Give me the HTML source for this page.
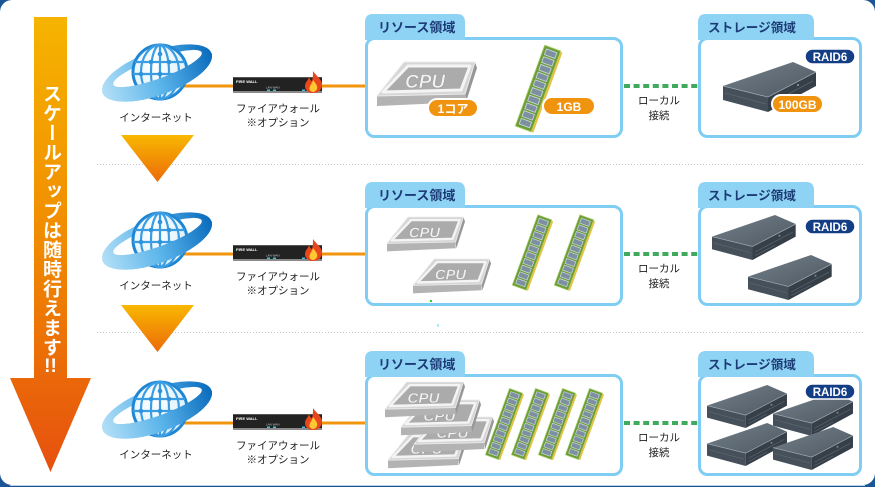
<!DOCTYPE html>
<html><head><meta charset="utf-8">
<style>
html,body{margin:0;padding:0;}
body{width:875px;height:487px;overflow:hidden;background:#1b5596;position:relative;font-family:"Liberation Sans","Noto Sans CJK JP",sans-serif;}
svg{position:absolute;left:0;top:0;}
.vt{position:absolute;left:38px;top:84px;width:25px;writing-mode:vertical-rl;font-size:19px;font-weight:bold;color:#fff;line-height:25px;letter-spacing:0.5px;font-family:"Liberation Sans","Noto Sans CJK JP",sans-serif;}
.tcu{text-combine-upright:all;}
</style></head><body>
<svg width="875" height="487" viewBox="0 0 875 487" font-family="Liberation Sans, Noto Sans CJK JP, sans-serif">
<defs>
  <linearGradient id="ga" x1="0" y1="17" x2="0" y2="472" gradientUnits="userSpaceOnUse">
    <stop offset="0" stop-color="#f6b400"/>
    <stop offset="0.5" stop-color="#f08a00"/>
    <stop offset="1" stop-color="#e6500f"/>
  </linearGradient>
  <linearGradient id="gt" x1="0" y1="0" x2="0" y2="1">
    <stop offset="0" stop-color="#f8b800"/>
    <stop offset="1" stop-color="#ec6a0a"/>
  </linearGradient>
  <linearGradient id="gring" x1="-58" y1="0" x2="58" y2="0" gradientUnits="userSpaceOnUse">
    <stop offset="0" stop-color="#b3dff7"/>
    <stop offset="0.5" stop-color="#5ab4ea"/>
    <stop offset="1" stop-color="#0a6bbd"/>
  </linearGradient>
  <radialGradient id="gsph" cx="0.4" cy="0.35" r="0.7">
    <stop offset="0" stop-color="#ffffff"/>
    <stop offset="1" stop-color="#d8eefb"/>
  </radialGradient>
  <linearGradient id="ghdd" x1="0" y1="0" x2="1" y2="1">
    <stop offset="0" stop-color="#75818b"/>
    <stop offset="1" stop-color="#4d5861"/>
  </linearGradient>
  <clipPath id="frontclip">
    <rect x="-70" y="0" width="140" height="40" transform="rotate(-20)"/>
  </clipPath>

  <g id="ring">
    <path transform="rotate(-20)" fill-rule="evenodd" fill="url(#gring)"
      d="M-58,0 A58,22 0 1 0 58,0 A58,22 0 1 0 -58,0 Z M-45,-4 A47,10 0 1 0 49,-4 A47,10 0 1 0 -45,-4 Z"/>
  </g>
  <g id="globe">
    <use href="#ring"/>
    <g transform="translate(3,-1)">
      <circle r="27" fill="url(#gsph)" stroke="#1f86d4" stroke-width="3"/>
      <g fill="none" stroke="#3a9de2" stroke-width="2.2">
        <ellipse rx="9" ry="27"/>
        <ellipse rx="19" ry="27"/>
        <line x1="0" y1="-27" x2="0" y2="27"/>
        <line x1="-25" y1="-10" x2="25" y2="-10"/>
        <line x1="-27" y1="2" x2="27" y2="2"/>
        <line x1="-23" y1="14" x2="23" y2="14"/>
      </g>
      <g fill="#2f93dc">
        <circle cx="-9" cy="-10" r="2.3"/><circle cx="9" cy="-10" r="2.3"/>
        <circle cx="0" cy="2" r="2.3"/><circle cx="-19" cy="2" r="2.3"/><circle cx="19" cy="2" r="2.3"/>
        <circle cx="-9" cy="14" r="2.3"/><circle cx="9" cy="14" r="2.3"/>
        <circle cx="0" cy="-18" r="2.3"/>
      </g>
    </g>
    <g clip-path="url(#frontclip)"><use href="#ring"/></g>
  </g>

  <g id="fw">
    <rect x="0" y="0" width="89" height="16" fill="#222"/>
    <rect x="0" y="0" width="89" height="1" fill="#555"/>
    <rect x="0" y="14" width="89" height="2" fill="#8a8a8a"/>
    <rect x="34" y="12.5" width="3" height="1.5" fill="#3cc0f0"/>
    <rect x="40" y="12.5" width="3" height="1.5" fill="#3cc0f0"/>
    <rect x="69" y="12.5" width="3" height="1.5" fill="#3cc0f0"/>
    <path d="M80,-6 C84,0 90,3 89,9 C88,14 84,16 80,16 C75,16 72,13 72,9 C72,5 75,4 76,0 C77,3 78,4 79,4 C80,1 80,-3 80,-6 Z" fill="#e8471c"/>
    <path d="M80,3 C83,7 85,9 84,12 C83,14 81,15 80,15 C78,15 76,13 76.5,11 C77,8 79,7 80,3 Z" fill="#ffc832"/>
  </g>

  <g id="cpu">
    <polygon points="0,34 88,32 88,40 0,44" fill="#b3b3b3"/>
    <polygon points="98,0 100,6 89,40 88,32" fill="#979797"/>
    <polygon points="27,0 98,0 88,32 0,34" fill="#d6d6d6" stroke="#ececec" stroke-width="1"/>
    <polygon points="31,4 93,4 84,28 6,30" fill="#ababab" stroke="#f4f4f4" stroke-width="3" stroke-linejoin="round"/>
  </g>

  <g id="mem">
    <rect x="-8.5" y="-43" width="17" height="86" fill="#6e9c3a" stroke="#a3d063" stroke-width="0.8"/>
    <rect x="8.5" y="-42" width="2.2" height="85" fill="#e2c444"/>
    <g fill="#7d90a2" stroke="#cfd9e1" stroke-width="0.8">
      <rect x="-5.5" y="-40" width="11" height="6"/>
      <rect x="-5.5" y="-31.8" width="11" height="6"/>
      <rect x="-5.5" y="-23.6" width="11" height="6"/>
      <rect x="-5.5" y="-15.4" width="11" height="6"/>
      <rect x="-5.5" y="-7.2" width="11" height="6"/>
      <rect x="-5.5" y="1" width="11" height="6"/>
      <rect x="-5.5" y="9.2" width="11" height="6"/>
      <rect x="-5.5" y="17.4" width="11" height="6"/>
      <rect x="-5.5" y="25.6" width="11" height="6"/>
      <rect x="-5.5" y="33.8" width="11" height="6"/>
    </g>
  </g>

  <g id="hdd">
    <polygon points="0,24 45,35 45,50 0,38" fill="#46505a"/>
    <polygon points="45,35 93,10 93,24 45,50" fill="#363f48"/>
    <polygon points="0,24 70,0 93,10 45,35" fill="url(#ghdd)"/>
    <polyline points="0,24 45,35 93,10" fill="none" stroke="#9aa6b0" stroke-width="0.8"/>
    <line x1="2" y1="31" x2="43" y2="42" stroke="#5b6670" stroke-width="0.8"/>
    <line x1="48" y1="41" x2="90" y2="19" stroke="#58636d" stroke-width="0.8"/>
    <line x1="48" y1="45" x2="70" y2="33.5" stroke="#58636d" stroke-width="0.8"/>
    <rect x="74" y="22" width="2" height="2" fill="#7a8690"/>
  </g>
</defs>

<!-- frame -->
<rect x="0" y="0" width="875" height="485" rx="12" fill="#fff"/>
<line x1="10" y1="485.5" x2="865" y2="485.5" stroke="#b7d2ea"/>

<!-- big left arrow -->
<rect x="34" y="17" width="33" height="362" fill="url(#ga)"/>
<polygon points="10,378 91,378 50.5,472" fill="url(#ga)"/>

<!-- separators -->
<line x1="97" y1="164.5" x2="865" y2="164.5" stroke="#c4c4c4" stroke-dasharray="1 2"/>
<line x1="97" y1="332.5" x2="865" y2="332.5" stroke="#c4c4c4" stroke-dasharray="1 2"/>

<!-- down triangles -->
<polygon points="121,135 194,135 157.5,182" fill="url(#gt)"/>
<polygon points="121,305 194,305 157.5,352" fill="url(#gt)"/>

<!-- ROWS common -->
<g id="row1">
  <line x1="183" y1="86" x2="366" y2="86" stroke="#f0950c" stroke-width="3"/>
  <use href="#globe" transform="translate(157,73)"/>
  <use href="#fw" transform="translate(233,77)"/>
  <text x="236" y="83" font-size="4" font-weight="bold" fill="#fff">FIRE WALL</text>
  <text x="266" y="88.5" font-size="3" fill="#ccc">LAN WAN</text>
  <text x="156" y="121" font-size="10.5" text-anchor="middle" fill="#222">インターネット</text>
  <text x="278" y="112" font-size="10.5" text-anchor="middle" fill="#222">ファイアウォール</text>
  <text x="278" y="126" font-size="10.5" text-anchor="middle" fill="#222">※オプション</text>
  <rect x="366.5" y="38.5" width="255" height="98" rx="8" fill="#fff" stroke="#7fcdf2" stroke-width="3"/>
  <path d="M365,40 V22 Q365,14 373,14 H457 Q465,14 465,22 V40 Z" fill="#8fd3f4"/>
  <text x="378" y="32" font-size="13" font-weight="bold" fill="#1d3b76">リソース領域</text>
  <rect x="699.5" y="38.5" width="161" height="98" rx="8" fill="#fff" stroke="#7fcdf2" stroke-width="3"/>
  <path d="M698,40 V22 Q698,14 706,14 H806 Q814,14 814,22 V40 Z" fill="#8fd3f4"/>
  <text x="708" y="32" font-size="12.6" font-weight="bold" fill="#1d3b76">ストレージ領域</text>
  <line x1="624" y1="86" x2="699" y2="86" stroke="#3faa5c" stroke-width="4" stroke-dasharray="6 3.6"/>
  <text x="659" y="104" font-size="10.5" text-anchor="middle" fill="#222">ローカル</text>
  <text x="659" y="119" font-size="10.5" text-anchor="middle" fill="#222">接続</text>
</g>
<g transform="translate(0,168)">
  <line x1="183" y1="86" x2="366" y2="86" stroke="#f0950c" stroke-width="3"/>
  <use href="#globe" transform="translate(157,73)"/>
  <use href="#fw" transform="translate(233,77)"/>
  <text x="236" y="83" font-size="4" font-weight="bold" fill="#fff">FIRE WALL</text>
  <text x="266" y="88.5" font-size="3" fill="#ccc">LAN WAN</text>
  <text x="156" y="121" font-size="10.5" text-anchor="middle" fill="#222">インターネット</text>
  <text x="278" y="112" font-size="10.5" text-anchor="middle" fill="#222">ファイアウォール</text>
  <text x="278" y="126" font-size="10.5" text-anchor="middle" fill="#222">※オプション</text>
  <rect x="366.5" y="38.5" width="255" height="98" rx="8" fill="#fff" stroke="#7fcdf2" stroke-width="3"/>
  <path d="M365,40 V22 Q365,14 373,14 H457 Q465,14 465,22 V40 Z" fill="#8fd3f4"/>
  <text x="378" y="32" font-size="13" font-weight="bold" fill="#1d3b76">リソース領域</text>
  <rect x="699.5" y="38.5" width="161" height="98" rx="8" fill="#fff" stroke="#7fcdf2" stroke-width="3"/>
  <path d="M698,40 V22 Q698,14 706,14 H806 Q814,14 814,22 V40 Z" fill="#8fd3f4"/>
  <text x="708" y="32" font-size="12.6" font-weight="bold" fill="#1d3b76">ストレージ領域</text>
  <line x1="624" y1="86" x2="699" y2="86" stroke="#3faa5c" stroke-width="4" stroke-dasharray="6 3.6"/>
  <text x="659" y="104" font-size="10.5" text-anchor="middle" fill="#222">ローカル</text>
  <text x="659" y="119" font-size="10.5" text-anchor="middle" fill="#222">接続</text>
</g>
<g transform="translate(0,337)">
  <line x1="183" y1="86" x2="366" y2="86" stroke="#f0950c" stroke-width="3"/>
  <use href="#globe" transform="translate(157,73)"/>
  <use href="#fw" transform="translate(233,77)"/>
  <text x="236" y="83" font-size="4" font-weight="bold" fill="#fff">FIRE WALL</text>
  <text x="266" y="88.5" font-size="3" fill="#ccc">LAN WAN</text>
  <text x="156" y="121" font-size="10.5" text-anchor="middle" fill="#222">インターネット</text>
  <text x="278" y="112" font-size="10.5" text-anchor="middle" fill="#222">ファイアウォール</text>
  <text x="278" y="126" font-size="10.5" text-anchor="middle" fill="#222">※オプション</text>
  <rect x="366.5" y="38.5" width="255" height="99" rx="8" fill="#fff" stroke="#7fcdf2" stroke-width="3"/>
  <path d="M365,40 V22 Q365,14 373,14 H457 Q465,14 465,22 V40 Z" fill="#8fd3f4"/>
  <text x="378" y="32" font-size="13" font-weight="bold" fill="#1d3b76">リソース領域</text>
  <rect x="699.5" y="38.5" width="161" height="99" rx="8" fill="#fff" stroke="#7fcdf2" stroke-width="3"/>
  <path d="M698,40 V22 Q698,14 706,14 H806 Q814,14 814,22 V40 Z" fill="#8fd3f4"/>
  <text x="708" y="32" font-size="12.6" font-weight="bold" fill="#1d3b76">ストレージ領域</text>
  <line x1="624" y1="86" x2="699" y2="86" stroke="#3faa5c" stroke-width="4" stroke-dasharray="6 3.6"/>
  <text x="659" y="104" font-size="10.5" text-anchor="middle" fill="#222">ローカル</text>
  <text x="659" y="119" font-size="10.5" text-anchor="middle" fill="#222">接続</text>
</g>

<!-- Row 1 contents -->
<g transform="translate(377,62)">
  <use href="#cpu"/>
  <text x="28" y="26" font-size="19" font-style="italic" font-weight="bold" fill="#f2f2f2" stroke="#9a9a9a" stroke-width="0.5">CPU</text>
</g>
<use href="#mem" transform="translate(538,88.5) rotate(20)"/>
<use href="#hdd" transform="translate(723,62)"/>
<rect x="428" y="99" width="50" height="18" rx="9" fill="#f0930e" stroke="#fff" stroke-width="2"/>
<text x="453" y="113" font-size="12" font-weight="bold" text-anchor="middle" fill="#fff">1コア</text>
<rect x="543" y="97" width="52" height="18" rx="9" fill="#f0930e" stroke="#fff" stroke-width="2"/>
<text x="569" y="111" font-size="12" font-weight="bold" text-anchor="middle" fill="#fff">1GB</text>
<rect x="772" y="95" width="51" height="18" rx="9" fill="#f0930e" stroke="#fff" stroke-width="2"/>
<text x="797.5" y="109" font-size="12" font-weight="bold" text-anchor="middle" fill="#fff">100GB</text>
<rect x="805" y="49" width="50" height="15" rx="7.5" fill="#133d85" stroke="#fff" stroke-width="1.5"/>
<text x="830" y="61" font-size="11.5" font-weight="bold" text-anchor="middle" fill="#fff">RAID6</text>

<!-- Row 2 contents -->
<g transform="translate(387,217) scale(0.78)">
  <use href="#cpu"/>
  <text x="28" y="26" font-size="19" font-style="italic" font-weight="bold" fill="#f2f2f2" stroke="#9a9a9a" stroke-width="0.5">CPU</text>
</g>
<g transform="translate(413,259) scale(0.78)">
  <use href="#cpu"/>
  <text x="28" y="26" font-size="19" font-style="italic" font-weight="bold" fill="#f2f2f2" stroke="#9a9a9a" stroke-width="0.5">CPU</text>
</g>
<use href="#mem" transform="translate(532,252.5) rotate(20) scale(0.87)"/>
<use href="#mem" transform="translate(574,252.5) rotate(20) scale(0.87)"/>
<use href="#hdd" transform="translate(712,215) scale(0.9)"/>
<use href="#hdd" transform="translate(748,255) scale(0.9)"/>
<rect x="805" y="219" width="50" height="15" rx="7.5" fill="#133d85" stroke="#fff" stroke-width="1.5"/>
<text x="830" y="231" font-size="11.5" font-weight="bold" text-anchor="middle" fill="#fff">RAID6</text>
<rect x="430" y="300" width="2" height="2" fill="#22dd22"/>
<text x="438" y="327" font-size="5" text-anchor="middle" fill="#40d0e0">x</text>

<!-- Row 3 contents -->
<g transform="translate(388,433) scale(0.8)">
  <use href="#cpu"/>
  <text x="28" y="26" font-size="19" font-style="italic" font-weight="bold" fill="#f2f2f2" stroke="#9a9a9a" stroke-width="0.5">CPU</text>
</g>
<g transform="translate(414,417) scale(0.8)">
  <use href="#cpu"/>
  <text x="28" y="26" font-size="19" font-style="italic" font-weight="bold" fill="#f2f2f2" stroke="#9a9a9a" stroke-width="0.5">CPU</text>
</g>
<g transform="translate(401,400) scale(0.8)">
  <use href="#cpu"/>
  <text x="28" y="26" font-size="19" font-style="italic" font-weight="bold" fill="#f2f2f2" stroke="#9a9a9a" stroke-width="0.5">CPU</text>
</g>
<g transform="translate(385,382) scale(0.8)">
  <use href="#cpu"/>
  <text x="28" y="26" font-size="19" font-style="italic" font-weight="bold" fill="#f2f2f2" stroke="#9a9a9a" stroke-width="0.5">CPU</text>
</g>
<use href="#mem" transform="translate(504,424) rotate(20) scale(0.82)"/>
<use href="#mem" transform="translate(530,424) rotate(20) scale(0.82)"/>
<use href="#mem" transform="translate(557,424) rotate(20) scale(0.82)"/>
<use href="#mem" transform="translate(584,424) rotate(20) scale(0.82)"/>
<use href="#hdd" transform="translate(707,385) scale(0.86)"/>
<use href="#hdd" transform="translate(773,393) scale(0.86)"/>
<use href="#hdd" transform="translate(707,423) scale(0.86)"/>
<use href="#hdd" transform="translate(773,427) scale(0.86)"/>
<rect x="805" y="384" width="50" height="15" rx="7.5" fill="#133d85" stroke="#fff" stroke-width="1.5"/>
<text x="830" y="396" font-size="11.5" font-weight="bold" text-anchor="middle" fill="#fff">RAID6</text>
</svg>
<div class="vt">スケールアップは随時行えます<span class="tcu">!!</span></div>
</body></html>
